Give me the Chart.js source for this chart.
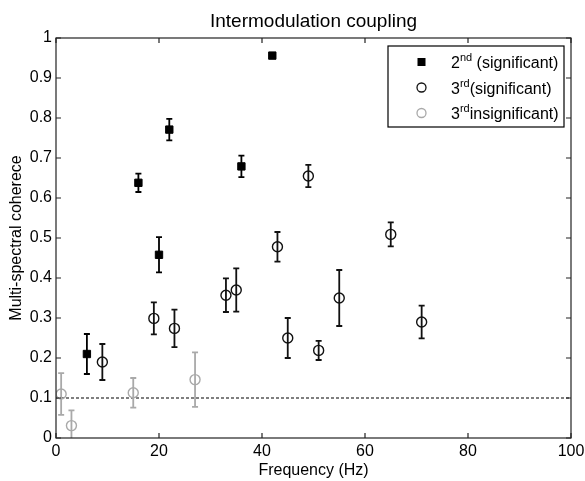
<!DOCTYPE html>
<html>
<head>
<meta charset="utf-8">
<script src="https://cdn.jsdelivr.net/npm/chart.js@4/dist/chart.umd.min.js"></script>
<style>
  html, body { margin: 0; padding: 0; background: #fff; }
</style>
</head>
<body>
<canvas id="coupling" width="585" height="481"></canvas>
<script>
// ---------------- data ----------------
const freq2nd = [6, 16, 20, 22, 36, 42]
const coh2nd = [0.21, 0.638, 0.458, 0.771, 0.679, 0.956]
const err2nd = [0.05, 0.023, 0.044, 0.027, 0.027, 0]

const freq3rd = [9, 19, 23, 33, 35, 43, 45, 49, 51, 55, 65, 71]
const coh3rd = [0.19, 0.299, 0.274, 0.357, 0.37, 0.478, 0.25, 0.655, 0.219, 0.35, 0.509, 0.29]
const err3rd = [0.045, 0.04, 0.047, 0.042, 0.054, 0.037, 0.05, 0.028, 0.024, 0.07, 0.03, 0.041]

const freqIns = [1, 3, 15, 27]
const cohIns = [0.11, 0.031, 0.113, 0.146]
const errIns = [0.052, 0.038, 0.037, 0.068]

const threshold = 0.1
const xTicks = [0, 20, 40, 60, 80, 100]
const yTicks = [0, 0.1, 0.2, 0.3, 0.4, 0.5, 0.6, 0.7, 0.8, 0.9, 1]

const titleText = "Intermodulation coupling"
const legendParts = [
  ["2", "nd", " (significant)"],
  ["3", "rd", "(significant)"],
  ["3", "rd", "insignificant)"]
]

const GRAY = "#a9a9a9"
const FONT = "'Liberation Sans', Arial, sans-serif"

function toPoints(xs, ys) {
  return xs.map((x, i) => ({ x: x, y: ys[i] }))
}

// title, error bars, threshold line, box, inward ticks, legend
const matlabLook = {
  id: "matlabLook",
  beforeDatasetsDraw(chart) {
    const { ctx, chartArea: a, scales: { x, y } } = chart
    ctx.save()
    // title over the plot box
    ctx.fillStyle = "#000"
    ctx.font = "19px " + FONT
    ctx.textAlign = "center"
    ctx.textBaseline = "alphabetic"
    ctx.fillText(titleText, (a.left + a.right) / 2, 27)

    // dashed threshold
    ctx.strokeStyle = "#000"
    ctx.lineWidth = 1.2
    ctx.setLineDash([3, 2])
    const ty = y.getPixelForValue(threshold)
    ctx.beginPath()
    ctx.moveTo(a.left, ty)
    ctx.lineTo(a.right, ty)
    ctx.stroke()
    ctx.setLineDash([])

    // error bars
    ctx.beginPath()
    ctx.rect(a.left, a.top, a.right - a.left, a.bottom - a.top)
    ctx.clip()
    chart.data.datasets.forEach(ds => {
      ctx.strokeStyle = ds.borderColor
      ctx.lineWidth = 1.8
      ds.data.forEach((p, i) => {
        const e = ds.errors[i]
        if (!e) return
        const px = x.getPixelForValue(p.x)
        const y1 = y.getPixelForValue(p.y + e)
        const y2 = y.getPixelForValue(p.y - e)
        ctx.beginPath()
        ctx.moveTo(px, y1); ctx.lineTo(px, y2)
        ctx.moveTo(px - 3, y1); ctx.lineTo(px + 3, y1)
        ctx.moveTo(px - 3, y2); ctx.lineTo(px + 3, y2)
        ctx.stroke()
      })
    })
    ctx.restore()
  },
  afterDatasetsDraw(chart) {
    const { ctx, chartArea: a, scales: { x, y } } = chart
    ctx.save()
    ctx.strokeStyle = "#222"
    ctx.lineWidth = 1.2
    ctx.strokeRect(a.left, a.top, a.right - a.left, a.bottom - a.top)
    ctx.beginPath()
    xTicks.forEach(v => {
      const px = x.getPixelForValue(v)
      ctx.moveTo(px, a.bottom); ctx.lineTo(px, a.bottom - 5)
      ctx.moveTo(px, a.top); ctx.lineTo(px, a.top + 5)
    })
    yTicks.forEach(v => {
      const py = y.getPixelForValue(v)
      ctx.moveTo(a.left, py); ctx.lineTo(a.left + 5, py)
      ctx.moveTo(a.right, py); ctx.lineTo(a.right - 5, py)
    })
    ctx.stroke()

    // legend
    const lx = a.right - 183, ly = a.top + 8, lw = 176, lh = 81
    ctx.fillStyle = "#fff"
    ctx.fillRect(lx, ly, lw, lh)
    ctx.strokeStyle = "#000"
    ctx.lineWidth = 1.2
    ctx.strokeRect(lx, ly, lw, lh)
    chart.data.datasets.forEach((ds, i) => {
      const cy = ly + 16 + i * 25.5
      const mx = lx + 33.5
      ctx.lineWidth = 1.3
      ctx.strokeStyle = ds.borderColor
      ctx.fillStyle = ds.backgroundColor
      ctx.beginPath()
      if (ds.pointStyle === "rect") {
        ctx.fillRect(mx - 4, cy - 4, 8, 8)
      } else {
        ctx.arc(mx, cy, 4.5, 0, Math.PI * 2)
        ctx.stroke()
      }
      const [base, sup, rest] = legendParts[i]
      let tx = lx + 63
      ctx.fillStyle = "#000"
      ctx.textBaseline = "alphabetic"
      ctx.font = "16px " + FONT
      ctx.fillText(base, tx, cy + 6)
      tx += ctx.measureText(base).width
      ctx.font = "11px " + FONT
      ctx.fillText(sup, tx, cy - 1)
      tx += ctx.measureText(sup).width
      ctx.font = "16px " + FONT
      ctx.fillText(rest, tx, cy + 6)
    })
    ctx.restore()
  }
}

const ctx = document.getElementById("coupling").getContext("2d")
const couplingChart = new Chart(ctx, {
  type: "scatter",
  data: {
    datasets: [
      {
        label: "2nd (significant)",
        data: toPoints(freq2nd, coh2nd),
        errors: err2nd,
        pointStyle: "rect",
        pointRadius: 5.2,
        backgroundColor: "#000",
        borderColor: "#000",
        borderWidth: 1
      },
      {
        label: "3rd (significant)",
        data: toPoints(freq3rd, coh3rd),
        errors: err3rd,
        pointStyle: "circle",
        pointRadius: 5,
        backgroundColor: "rgba(0,0,0,0)",
        borderColor: "#111",
        borderWidth: 1.4
      },
      {
        label: "3rd insignificant)",
        data: toPoints(freqIns, cohIns),
        errors: errIns,
        pointStyle: "circle",
        pointRadius: 5,
        backgroundColor: "rgba(0,0,0,0)",
        borderColor: GRAY,
        borderWidth: 1.4
      }
    ]
  },
  options: {
    responsive: false,
    animation: false,
    layout: { padding: { top: 38, right: 14, left: 0, bottom: 0 } },
    plugins: {
      legend: { display: false },
      tooltip: { enabled: false },
      title: { display: false }
    },
    scales: {
      x: {
        type: "linear",
        min: 0,
        max: 100,
        afterFit(scale) {
          scale.height = 43
          scale.paddingLeft = 0
          scale.paddingRight = 0
        },
        afterBuildTicks(scale) { scale.ticks = xTicks.map(v => ({ value: v })) },
        grid: { display: false, drawTicks: false },
        border: { display: false },
        ticks: { color: "#000", font: { family: FONT, size: 16 }, padding: 4, maxRotation: 0 },
        title: {
          display: true,
          text: "Frequency (Hz)",
          color: "#000",
          font: { family: FONT, size: 16 },
          padding: { top: 0, bottom: 1 }
        }
      },
      y: {
        min: 0,
        max: 1,
        afterFit(scale) {
          scale.width = 56
          scale.paddingTop = 0
          scale.paddingBottom = 0
        },
        afterBuildTicks(scale) { scale.ticks = yTicks.map(v => ({ value: v })) },
        grid: { display: false, drawTicks: false },
        border: { display: false },
        ticks: {
          color: "#000",
          font: { family: FONT, size: 16 },
          padding: 4,
          callback: v => String(Math.round(v * 10) / 10)
        },
        title: {
          display: true,
          text: "Multi-spectral coherece",
          color: "#000",
          font: { family: FONT, size: 16 },
          padding: { top: 7, bottom: 0 }
        }
      }
    }
  },
  plugins: [matlabLook]
})
</script>
</body>
</html>
